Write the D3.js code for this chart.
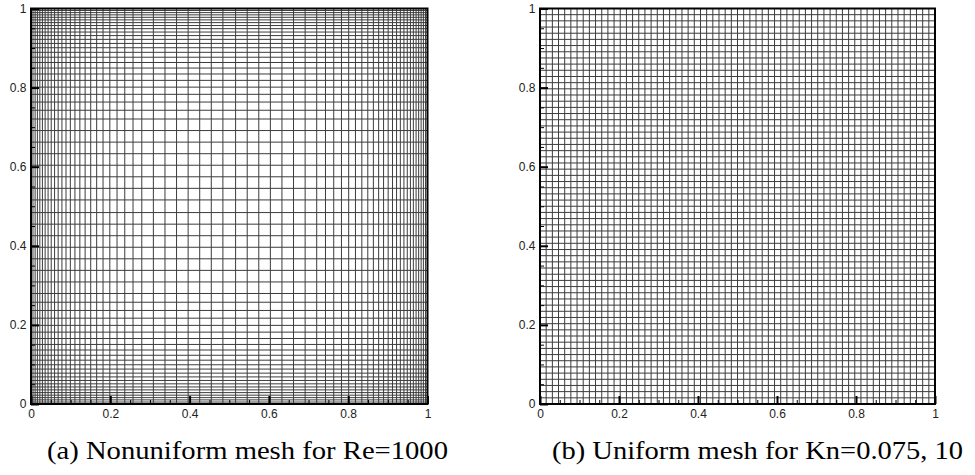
<!DOCTYPE html>
<html>
<head>
<meta charset="utf-8">
<script src="https://cdn.jsdelivr.net/npm/d3@7"></script>
<style>
  html, body { margin: 0; padding: 0; background: #fff; }
  svg { display: block; }
</style>
</head>
<body>
<svg id="chart"></svg>
<script>
// mesh node positions (same distribution in x and y)
const nonuniformNodes = [
  0, 0.0050, 0.0104, 0.0161, 0.0223, 0.0288, 0.0357, 0.0431, 0.0510, 0.0595,
  0.0685, 0.0780, 0.0883, 0.0992, 0.1108, 0.1232, 0.1365, 0.1506, 0.1656, 0.1817,
  0.1988, 0.2170, 0.2365, 0.2573, 0.2794, 0.3086, 0.3379, 0.3671, 0.3963, 0.4255,
  0.4547, 0.4840, 0.5160, 0.5453, 0.5745, 0.6037, 0.6329, 0.6621, 0.6914, 0.7206,
  0.7427, 0.7635, 0.7830, 0.8012, 0.8183, 0.8344, 0.8494, 0.8635, 0.8768, 0.8892,
  0.9008, 0.9117, 0.9220, 0.9315, 0.9405, 0.9490, 0.9569, 0.9643, 0.9712, 0.9777,
  0.9839, 0.9896, 0.9950, 1
]

const uniformNodes = [
  0, 0.0156, 0.0313, 0.0469, 0.0625, 0.0781, 0.0938, 0.1094, 0.125, 0.1406,
  0.1563, 0.1719, 0.1875, 0.2031, 0.2188, 0.2344, 0.25, 0.2656, 0.2813, 0.2969,
  0.3125, 0.3281, 0.3438, 0.3594, 0.375, 0.3906, 0.4063, 0.4219, 0.4375, 0.4531,
  0.4688, 0.4844, 0.5, 0.5156, 0.5313, 0.5469, 0.5625, 0.5781, 0.5938, 0.6094,
  0.625, 0.6406, 0.6563, 0.6719, 0.6875, 0.7031, 0.7188, 0.7344, 0.75, 0.7656,
  0.7813, 0.7969, 0.8125, 0.8281, 0.8438, 0.8594, 0.875, 0.8906, 0.9063, 0.9219,
  0.9375, 0.9531, 0.9688, 0.9844, 1
]

const majorTicks = [0, 0.2, 0.4, 0.6, 0.8, 1]
const majorLabels = ['0', '0.2', '0.4', '0.6', '0.8', '1']
const minorTicks = [0.05, 0.1, 0.15, 0.25, 0.3, 0.35, 0.45, 0.5, 0.55,
  0.65, 0.7, 0.75, 0.85, 0.9, 0.95]

const captions = ['(a) Nonuniform mesh for Re=1000', '(b) Uniform mesh for Kn=0.075, 10']

const width = 975
const height = 475

const svg = d3.select('#chart')
  .attr('width', width)
  .attr('height', height)
  .attr('viewBox', `0 0 ${width} ${height}`)

svg.append('rect')
  .attr('width', width)
  .attr('height', height)
  .attr('fill', '#fff')

const panels = [
  { nodes: nonuniformNodes, x0: 31, x1: 427.5, capX: 47, capW: 401, caption: captions[0] },
  { nodes: uniformNodes, x0: 540, x1: 935, capX: 552, capW: 411, caption: captions[1] }
]

const plotTop = 8.5
const plotBottom = 404

panels.forEach((p) => {
  const x = d3.scaleLinear().domain([0, 1]).range([p.x0, p.x1])
  const y = d3.scaleLinear().domain([0, 1]).range([plotBottom, plotTop])
  const g = svg.append('g')

  // mesh
  g.append('g')
    .selectAll('line')
    .data(p.nodes)
    .join('line')
    .attr('x1', (d) => x(d))
    .attr('x2', (d) => x(d))
    .attr('y1', y(0))
    .attr('y2', y(1))
    .attr('stroke', '#3c3c3c')
    .attr('stroke-width', 1)

  g.append('g')
    .selectAll('line')
    .data(p.nodes)
    .join('line')
    .attr('x1', x(0))
    .attr('x2', x(1))
    .attr('y1', (d) => y(d))
    .attr('y2', (d) => y(d))
    .attr('stroke', '#3c3c3c')
    .attr('stroke-width', 1)

  // minor ticks (inside)
  const minorX = g.append('g')
    .attr('transform', `translate(0,${plotBottom})`)
    .call(d3.axisBottom(x).tickValues(minorTicks).tickSize(-4).tickFormat(''))
  const minorY = g.append('g')
    .attr('transform', `translate(${p.x0},0)`)
    .call(d3.axisLeft(y).tickValues(minorTicks).tickSize(-4).tickFormat(''))
  ;[minorX, minorY].forEach((a) => {
    a.select('.domain').remove()
    a.selectAll('.tick line').attr('stroke', '#000').attr('stroke-width', 1)
  })

  // major ticks + labels
  const xAxis = g.append('g')
    .attr('transform', `translate(0,${plotBottom})`)
    .call(d3.axisBottom(x).tickValues(majorTicks).tickSize(-8).tickPadding(5)
      .tickFormat((d, i) => majorLabels[i]))
  const yAxis = g.append('g')
    .attr('transform', `translate(${p.x0},0)`)
    .call(d3.axisLeft(y).tickValues(majorTicks).tickSize(-8).tickPadding(4.5)
      .tickFormat((d, i) => majorLabels[i]))
  ;[xAxis, yAxis].forEach((a) => {
    a.select('.domain').remove()
    a.selectAll('.tick line').attr('stroke', '#000').attr('stroke-width', 2)
    a.selectAll('.tick text')
      .attr('fill', '#222')
      .style('font-family', '"Liberation Sans", Arial, sans-serif')
      .style('font-size', '12px')
  })

  // frame
  g.append('rect')
    .attr('x', x(0))
    .attr('y', y(1))
    .attr('width', x(1) - x(0))
    .attr('height', y(0) - y(1))
    .attr('fill', 'none')
    .attr('stroke', '#000')
    .attr('stroke-width', 2)

  // caption
  svg.append('text')
    .attr('x', p.capX)
    .attr('y', 459)
    .attr('textLength', p.capW)
    .attr('lengthAdjust', 'spacingAndGlyphs')
    .style('font-family', '"Liberation Serif", "Times New Roman", serif')
    .style('font-size', '25px')
    .attr('fill', '#000')
    .text(p.caption)
})
</script>
</body>
</html>
